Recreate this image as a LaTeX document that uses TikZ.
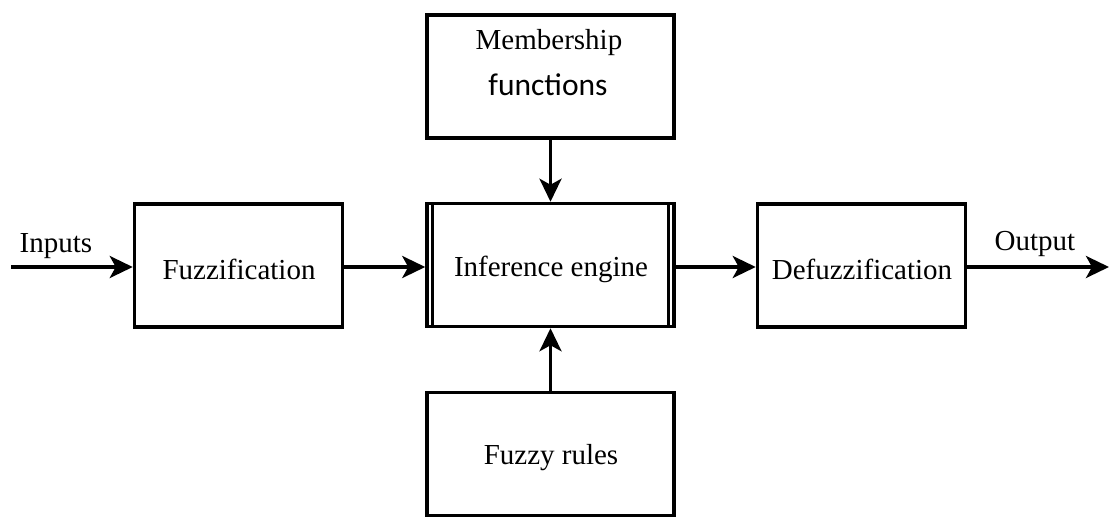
\documentclass[tikz,border=0pt]{standalone}
\usepackage{fontspec}
\setmainfont{Liberation Serif}
\newfontfamily\calib{Carlito}
\usetikzlibrary{arrows.meta}
\begin{document}
\begin{tikzpicture}[x=1pt,y=-1pt,
  box/.style={draw, line width=3.5pt, minimum width=247pt, minimum height=123pt, inner sep=0pt, font=\fontsize{29}{34}\selectfont},
  sbox/.style={box, minimum width=208pt},
  conn/.style={line width=3.5pt, -{Stealth[length=23pt,width=22pt,inset=6pt]}},
  lbl/.style={font=\fontsize{29}{34}\selectfont, inner sep=0pt},
  btxt/.style={font=\fontsize{29}{34}\selectfont, inner sep=0pt}]
\useasboundingbox (0,0) rectangle (1109,519);
\node[box] (mem) at (550.5,76.5) {};
\node[lbl] (memt) at (549,43) {Membership};
\node[lbl, font=\calib\fontsize{31.5}{36}\selectfont] (memf) at (548,85) {functions};
\node[box] (inf) at (550.5,265) {};
\node[btxt] (inft) at (551,269) {Inference engine};
\draw[line width=3pt] (432.5,203) -- (432.5,327);
\draw[line width=3pt] (668.5,203) -- (668.5,327);
\node[box] (rules) at (550.5,454) {};
\node[btxt] (rulest) at (551,458) {Fuzzy rules};
\node[sbox] (fuzz) at (238.5,265.5) {};
\node[btxt] (fuzzt) at (239,269) {Fuzzification};
\node[sbox] (defuzz) at (861.5,265.5) {};
\node[btxt] (defuzzt) at (862,269) {Defuzzification};
\coordinate (in) at (11,267);
\coordinate (out) at (1109,267);
\draw[conn] (in) -- (fuzz.west |- in);
\draw[conn] (fuzz.east |- in) -- (inf.west |- in);
\draw[conn] (inf.east |- in) -- (defuzz.west |- in);
\draw[conn] (defuzz.east |- in) -- (out);
\draw[conn] (mem.south) -- (inf.north);
\draw[conn] (rules.north) -- (inf.south);
\node[lbl] (inl) at (56,246) {Inputs};
\node[lbl] (outl) at (1035,244) {Output};
\end{tikzpicture}
\end{document}
